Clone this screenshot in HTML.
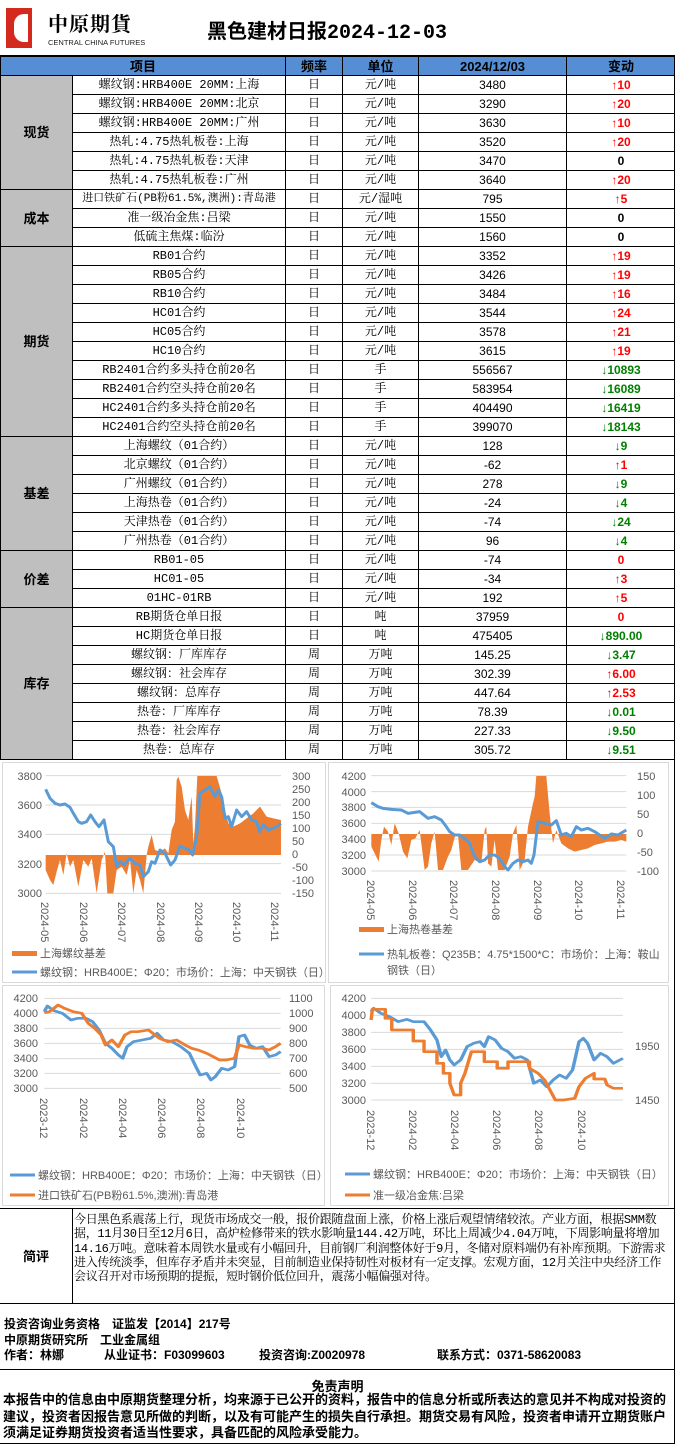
<!DOCTYPE html>
<html><head><meta charset="utf-8">
<style>
*{margin:0;padding:0;box-sizing:border-box}
body{width:675px;height:1445px;background:#fff;position:relative;overflow:hidden;font-family:"Liberation Sans","Noto Sans CJK SC",sans-serif}
.abs{position:absolute}
table{position:absolute;left:0;top:56px;width:675px;border-collapse:collapse;table-layout:fixed;font-family:"Liberation Mono","Noto Serif CJK SC",serif;font-size:12px}
td{border:1px solid #000;height:19px;text-align:center;padding:0;white-space:nowrap;overflow:hidden;line-height:17px}
tr.h td{background:#558ED5;font-weight:bold;font-family:"Liberation Sans","Noto Sans CJK SC",sans-serif;font-size:13px}
td.c{background:#BFBFBF;font-weight:bold;font-family:"Liberation Sans","Noto Sans CJK SC",sans-serif;font-size:13px}
td.n{font-family:"Liberation Sans Narrow","Liberation Sans",sans-serif;font-size:12px}
.u{color:#f00;font-weight:bold;font-family:"Liberation Sans","Noto Sans CJK SC",sans-serif}
.d{color:#008000;font-weight:bold;font-family:"Liberation Sans","Noto Sans CJK SC",sans-serif}
.z{color:#000;font-weight:bold;font-family:"Liberation Sans",sans-serif}
svg text{font-family:"Liberation Sans","Noto Sans CJK SC",sans-serif;fill:#595959;font-size:11px}
.ft{font-family:"Liberation Sans","Noto Sans CJK SC",sans-serif;font-weight:bold;font-size:12px;position:absolute;left:4px;white-space:nowrap}
</style></head><body>
<div class="abs" style="left:6px;top:8px;width:26px;height:40px;background:#d42a1e"></div>
<div class="abs" style="left:14px;top:14px;width:14px;height:28px;background:#fff;border-radius:10px 0 0 10px"></div>
<div class="abs" style="left:48px;top:8px;font-size:20px;font-weight:bold;font-family:'Noto Serif CJK SC',serif;letter-spacing:1px">中原期貨</div>
<div class="abs" style="left:48px;top:38px;font-size:7.5px;color:#222">CENTRAL CHINA FUTURES</div>
<div class="abs" style="left:207px;top:15px;font-size:20px;font-weight:bold;font-family:'Liberation Mono','Noto Sans CJK SC',sans-serif">黑色建材日报2024-12-03</div>
<div class="abs" style="left:0;top:55px;width:675px;height:1px;background:#000"></div>

<table>
<colgroup><col style="width:72px"><col style="width:213px"><col style="width:57px"><col style="width:76px"><col style="width:148px"><col style="width:109px"></colgroup>
<tr class="h"><td colspan="2">项目</td><td>频率</td><td>单位</td><td>2024/12/03</td><td>变动</td></tr>
<tr><td class="c" rowspan="6">现货</td><td>螺纹钢:HRB400E 20MM:上海</td><td>日</td><td>元/吨</td><td class="n">3480</td><td class="u">↑10</td></tr>
<tr><td>螺纹钢:HRB400E 20MM:北京</td><td>日</td><td>元/吨</td><td class="n">3290</td><td class="u">↑20</td></tr>
<tr><td>螺纹钢:HRB400E 20MM:广州</td><td>日</td><td>元/吨</td><td class="n">3630</td><td class="u">↑10</td></tr>
<tr><td>热轧:4.75热轧板卷:上海</td><td>日</td><td>元/吨</td><td class="n">3520</td><td class="u">↑20</td></tr>
<tr><td>热轧:4.75热轧板卷:天津</td><td>日</td><td>元/吨</td><td class="n">3470</td><td class="z">0</td></tr>
<tr><td>热轧:4.75热轧板卷:广州</td><td>日</td><td>元/吨</td><td class="n">3640</td><td class="u">↑20</td></tr>
<tr><td class="c" rowspan="3">成本</td><td style="font-size:11px">进口铁矿石(PB粉61.5%,澳洲):青岛港</td><td>日</td><td>元/湿吨</td><td class="n">795</td><td class="u">↑5</td></tr>
<tr><td>准一级冶金焦:吕梁</td><td>日</td><td>元/吨</td><td class="n">1550</td><td class="z">0</td></tr>
<tr><td>低硫主焦煤:临汾</td><td>日</td><td>元/吨</td><td class="n">1560</td><td class="z">0</td></tr>
<tr><td class="c" rowspan="10">期货</td><td>RB01合约</td><td>日</td><td>元/吨</td><td class="n">3352</td><td class="u">↑19</td></tr>
<tr><td>RB05合约</td><td>日</td><td>元/吨</td><td class="n">3426</td><td class="u">↑19</td></tr>
<tr><td>RB10合约</td><td>日</td><td>元/吨</td><td class="n">3484</td><td class="u">↑16</td></tr>
<tr><td>HC01合约</td><td>日</td><td>元/吨</td><td class="n">3544</td><td class="u">↑24</td></tr>
<tr><td>HC05合约</td><td>日</td><td>元/吨</td><td class="n">3578</td><td class="u">↑21</td></tr>
<tr><td>HC10合约</td><td>日</td><td>元/吨</td><td class="n">3615</td><td class="u">↑19</td></tr>
<tr><td>RB2401合约多头持仓前20名</td><td>日</td><td>手</td><td class="n">556567</td><td class="d">↓10893</td></tr>
<tr><td>RB2401合约空头持仓前20名</td><td>日</td><td>手</td><td class="n">583954</td><td class="d">↓16089</td></tr>
<tr><td>HC2401合约多头持仓前20名</td><td>日</td><td>手</td><td class="n">404490</td><td class="d">↓16419</td></tr>
<tr><td>HC2401合约空头持仓前20名</td><td>日</td><td>手</td><td class="n">399070</td><td class="d">↓18143</td></tr>
<tr><td class="c" rowspan="6">基差</td><td>上海螺纹（01合约）</td><td>日</td><td>元/吨</td><td class="n">128</td><td class="d">↓9</td></tr>
<tr><td>北京螺纹（01合约）</td><td>日</td><td>元/吨</td><td class="n">-62</td><td class="u">↑1</td></tr>
<tr><td>广州螺纹（01合约）</td><td>日</td><td>元/吨</td><td class="n">278</td><td class="d">↓9</td></tr>
<tr><td>上海热卷（01合约）</td><td>日</td><td>元/吨</td><td class="n">-24</td><td class="d">↓4</td></tr>
<tr><td>天津热卷（01合约）</td><td>日</td><td>元/吨</td><td class="n">-74</td><td class="d">↓24</td></tr>
<tr><td>广州热卷（01合约）</td><td>日</td><td>元/吨</td><td class="n">96</td><td class="d">↓4</td></tr>
<tr><td class="c" rowspan="3">价差</td><td>RB01-05</td><td>日</td><td>元/吨</td><td class="n">-74</td><td class="u">0</td></tr>
<tr><td>HC01-05</td><td>日</td><td>元/吨</td><td class="n">-34</td><td class="u">↑3</td></tr>
<tr><td>01HC-01RB</td><td>日</td><td>元/吨</td><td class="n">192</td><td class="u">↑5</td></tr>
<tr><td class="c" rowspan="8">库存</td><td>RB期货仓单日报</td><td>日</td><td>吨</td><td class="n">37959</td><td class="u">0</td></tr>
<tr><td>HC期货仓单日报</td><td>日</td><td>吨</td><td class="n">475405</td><td class="d">↓890.00</td></tr>
<tr><td>螺纹钢：厂库库存</td><td>周</td><td>万吨</td><td class="n">145.25</td><td class="d">↓3.47</td></tr>
<tr><td>螺纹钢：社会库存</td><td>周</td><td>万吨</td><td class="n">302.39</td><td class="u">↑6.00</td></tr>
<tr><td>螺纹钢：总库存</td><td>周</td><td>万吨</td><td class="n">447.64</td><td class="u">↑2.53</td></tr>
<tr><td>热卷：厂库库存</td><td>周</td><td>万吨</td><td class="n">78.39</td><td class="d">↓0.01</td></tr>
<tr><td>热卷：社会库存</td><td>周</td><td>万吨</td><td class="n">227.33</td><td class="d">↓9.50</td></tr>
<tr><td>热卷：总库存</td><td>周</td><td>万吨</td><td class="n">305.72</td><td class="d">↓9.51</td></tr>
</table>

<svg class="abs" style="left:0;top:0" width="675" height="1445">
<g fill="none" stroke="#d9d9d9" stroke-width="1">
<rect x="2.5" y="762.5" width="323" height="220"/>
<rect x="328.5" y="762.5" width="340" height="220"/>
<rect x="2.5" y="985.5" width="322" height="220"/>
<rect x="330.5" y="985.5" width="338" height="220"/>
</g>
<g transform="translate(0,760) scale(0.3333,0.3333)">
<g stroke="#d9d9d9" stroke-width="3"><line x1="137" y1="47" x2="843" y2="47"/><line x1="137" y1="135" x2="843" y2="135"/><line x1="137" y1="223" x2="843" y2="223"/><line x1="137" y1="311" x2="843" y2="311"/><line x1="137" y1="400" x2="843" y2="400"/></g>
<polygon fill="#ED7D31" points="137,285 137,330 150,360 160,375 170,335 180,300 190,345 200,280 210,320 220,300 235,380 250,300 265,320 275,295 290,400 305,300 315,275 322,400 340,400 350,330 365,320 380,345 390,300 400,400 410,330 420,360 430,400 440,285 445,260 455,225 465,270 480,275 495,265 505,280 515,210 525,185 530,60 535,50 545,80 555,150 565,180 575,110 580,250 585,200 592,48 650,48 665,100 675,150 685,190 700,200 720,190 740,175 760,160 780,140 800,170 820,175 843,180 843,285"/>
<polyline fill="none" stroke="#5B9BD5" stroke-width="9" stroke-linejoin="round" points="137,88 150,115 165,130 180,135 195,132 210,142 220,160 235,185 245,190 260,185 272,165 285,185 297,200 312,180 325,245 340,260 350,320 360,305 372,315 390,295 405,310 420,315 430,350 445,335 455,305 465,310 480,270 495,280 512,315 525,300 540,258 555,265 565,268 578,285 590,230 600,100 615,90 630,80 645,110 655,90 665,110 675,175 685,170 695,200 710,150 725,170 740,155 755,180 770,185 778,215 790,195 805,210 820,205 830,200 843,190"/>
</g>
<g text-anchor="end"><text x="42" y="780">3800</text><text x="42" y="809">3600</text><text x="42" y="838">3400</text><text x="42" y="868">3200</text><text x="42" y="897">3000</text></g>
<g><text x="292" y="780">300</text><text x="292" y="793">250</text><text x="292" y="806">200</text><text x="292" y="819">150</text><text x="292" y="832">100</text><text x="292" y="845">50</text><text x="292" y="858">0</text><text x="292" y="871">-50</text><text x="292" y="884">-100</text><text x="292" y="897">-150</text></g>
<g><text transform="translate(41,902) rotate(90)">2024-05</text><text transform="translate(80,902) rotate(90)">2024-06</text><text transform="translate(118,902) rotate(90)">2024-07</text><text transform="translate(157,902) rotate(90)">2024-08</text><text transform="translate(195,902) rotate(90)">2024-09</text><text transform="translate(233,902) rotate(90)">2024-10</text><text transform="translate(271,902) rotate(90)">2024-11</text></g>
<rect x="12" y="951" width="25" height="5" fill="#ED7D31"/><text x="40" y="957">上海螺纹基差</text>
<line x1="12" y1="972" x2="37" y2="972" stroke="#5B9BD5" stroke-width="3"/><text x="40" y="976">螺纹钢：HRB400E：Φ20：市场价：上海：中天钢铁（日）</text>
<g transform="translate(328,760) scale(0.3333,0.3333)">
<g stroke="#d9d9d9" stroke-width="3"><line x1="130" y1="47" x2="895" y2="47"/><line x1="130" y1="95" x2="895" y2="95"/><line x1="130" y1="142" x2="895" y2="142"/><line x1="130" y1="190" x2="895" y2="190"/><line x1="130" y1="237" x2="895" y2="237"/><line x1="130" y1="285" x2="895" y2="285"/><line x1="130" y1="333" x2="895" y2="333"/></g>
<polygon fill="#ED7D31" points="130,222 130,260 140,280 152,305 160,240 168,200 180,215 190,255 200,190 212,220 225,275 238,295 250,240 262,235 275,210 290,330 300,320 310,250 320,215 330,330 345,330 360,290 370,270 382,225 390,225 400,330 420,330 440,300 460,310 470,210 475,200 480,310 490,320 500,240 510,330 530,330 545,290 555,220 565,195 575,330 590,300 600,200 615,130 620,110 625,48 655,48 665,160 675,250 685,210 700,250 720,265 740,275 760,270 780,265 800,255 820,250 840,245 860,245 880,240 895,245 895,222"/>
<polyline fill="none" stroke="#5B9BD5" stroke-width="9" stroke-linejoin="round" points="130,128 150,140 165,145 190,148 220,150 240,160 275,155 300,175 320,170 340,180 355,200 365,215 380,225 395,225 410,235 425,250 440,290 455,305 470,300 485,285 500,285 515,295 530,320 540,330 555,310 570,300 585,305 600,300 610,310 618,285 630,185 650,190 670,195 685,182 700,225 715,220 730,230 745,200 760,210 780,205 800,215 815,225 830,235 850,222 870,225 895,210"/>
</g>
<g text-anchor="end"><text x="366" y="780">4200</text><text x="366" y="796">4000</text><text x="366" y="811">3800</text><text x="366" y="827">3600</text><text x="366" y="843">3400</text><text x="366" y="859">3200</text><text x="366" y="875">3000</text></g>
<g><text x="637" y="780">150</text><text x="637" y="799">100</text><text x="637" y="818">50</text><text x="637" y="837">0</text><text x="637" y="856">-50</text><text x="637" y="875">-100</text></g>
<g><text transform="translate(367,880) rotate(90)">2024-05</text><text transform="translate(409,880) rotate(90)">2024-06</text><text transform="translate(450,880) rotate(90)">2024-07</text><text transform="translate(492,880) rotate(90)">2024-08</text><text transform="translate(534,880) rotate(90)">2024-09</text><text transform="translate(575,880) rotate(90)">2024-10</text><text transform="translate(617,880) rotate(90)">2024-11</text></g>
<rect x="359" y="927" width="25" height="5" fill="#ED7D31"/><text x="387" y="933">上海热卷基差</text>
<line x1="359" y1="954" x2="384" y2="954" stroke="#5B9BD5" stroke-width="3"/><text x="387" y="958">热轧板卷：Q235B：4.75*1500*C：市场价：上海：鞍山</text><text x="387" y="974">钢铁（日）</text>
<g transform="translate(0,980) scale(0.4305,0.3333)">
<g stroke="#d9d9d9" stroke-width="3"><line x1="103" y1="55" x2="652" y2="55"/><line x1="103" y1="100" x2="652" y2="100"/><line x1="103" y1="145" x2="652" y2="145"/><line x1="103" y1="190" x2="652" y2="190"/><line x1="103" y1="236" x2="652" y2="236"/><line x1="103" y1="280" x2="652" y2="280"/><line x1="103" y1="325" x2="652" y2="325"/></g>
<polyline fill="none" stroke="#5B9BD5" stroke-width="8" stroke-linejoin="round" points="103,95 110,78 125,92 145,100 165,120 180,115 200,115 215,125 230,150 245,190 260,205 275,225 285,235 295,200 310,185 330,180 350,175 365,160 380,180 400,185 420,200 440,220 455,260 465,285 480,280 490,300 500,290 515,265 530,270 545,260 555,170 568,165 580,195 595,205 610,200 625,230 640,225 652,215"/>
<polyline fill="none" stroke="#ED7D31" stroke-width="8" stroke-linejoin="round" points="103,98 115,95 135,75 150,85 170,95 190,100 205,130 220,145 235,165 245,195 260,180 275,200 290,165 305,155 320,155 345,150 355,160 370,175 390,185 410,180 430,195 445,205 460,210 480,220 495,230 510,240 525,240 545,235 555,195 570,200 590,205 610,205 625,210 640,200 652,190"/>
</g>
<g text-anchor="end"><text x="38" y="1002">4200</text><text x="38" y="1017">4000</text><text x="38" y="1032">3800</text><text x="38" y="1047">3600</text><text x="38" y="1062">3400</text><text x="38" y="1077">3200</text><text x="38" y="1092">3000</text></g>
<g><text x="289" y="1002">1100</text><text x="289" y="1017">1000</text><text x="289" y="1032">900</text><text x="289" y="1047">800</text><text x="289" y="1062">700</text><text x="289" y="1077">600</text><text x="289" y="1092">500</text></g>
<g><text transform="translate(40,1098) rotate(90)">2023-12</text><text transform="translate(80,1098) rotate(90)">2024-02</text><text transform="translate(119,1098) rotate(90)">2024-04</text><text transform="translate(158,1098) rotate(90)">2024-06</text><text transform="translate(197,1098) rotate(90)">2024-08</text><text transform="translate(237,1098) rotate(90)">2024-10</text></g>
<line x1="10" y1="1175" x2="35" y2="1175" stroke="#5B9BD5" stroke-width="3"/><text x="38" y="1179">螺纹钢：HRB400E：Φ20：市场价：上海：中天钢铁（日）</text>
<line x1="10" y1="1195" x2="35" y2="1195" stroke="#ED7D31" stroke-width="3"/><text x="38" y="1199">进口铁矿石(PB粉61.5%,澳洲):青岛港</text>
<g transform="translate(0,980) scale(0.4305,0.3333)">
<g stroke="#d9d9d9" stroke-width="3"><line x1="862" y1="55" x2="1447" y2="55"/><line x1="862" y1="106" x2="1447" y2="106"/><line x1="862" y1="157" x2="1447" y2="157"/><line x1="862" y1="208" x2="1447" y2="208"/><line x1="862" y1="259" x2="1447" y2="259"/><line x1="862" y1="310" x2="1447" y2="310"/><line x1="862" y1="360" x2="1447" y2="360"/></g>
<polyline fill="none" stroke="#5B9BD5" stroke-width="8" stroke-linejoin="round" points="862,95 868,85 885,100 905,110 925,125 945,118 960,125 985,125 1000,150 1015,180 1025,230 1035,210 1045,240 1055,255 1070,240 1085,200 1100,190 1115,185 1125,200 1135,170 1150,180 1165,205 1180,215 1195,235 1210,230 1225,240 1240,310 1255,300 1270,320 1285,300 1300,285 1315,295 1330,270 1345,185 1355,175 1365,190 1380,240 1395,220 1410,230 1425,250 1447,235"/>
<polyline fill="none" stroke="#ED7D31" stroke-width="8" stroke-linejoin="round" points="862,120 865,88 895,88 895,115 910,115 910,150 960,150 960,183 985,183 985,215 1015,215 1015,250 1030,250 1030,280 1045,280 1045,310 1055,345 1070,345 1070,310 1080,280 1095,215 1125,215 1125,245 1155,245 1155,265 1180,265 1180,245 1230,245 1230,265 1250,280 1265,300 1290,360 1310,360 1335,355 1345,320 1360,295 1380,280 1380,297 1405,297 1410,315 1425,325 1447,325"/>
</g>
<g text-anchor="end"><text x="366" y="1002">4200</text><text x="366" y="1019">4000</text><text x="366" y="1036">3800</text><text x="366" y="1053">3600</text><text x="366" y="1070">3400</text><text x="366" y="1087">3200</text><text x="366" y="1104">3000</text></g>
<g><text x="635" y="1050">1950</text><text x="635" y="1104">1450</text></g>
<g><text transform="translate(367,1110) rotate(90)">2023-12</text><text transform="translate(409,1110) rotate(90)">2024-02</text><text transform="translate(451,1110) rotate(90)">2024-04</text><text transform="translate(493,1110) rotate(90)">2024-06</text><text transform="translate(535,1110) rotate(90)">2024-08</text><text transform="translate(578,1110) rotate(90)">2024-10</text></g>
<line x1="345" y1="1174" x2="370" y2="1174" stroke="#5B9BD5" stroke-width="3"/><text x="373" y="1178">螺纹钢：HRB400E：Φ20：市场价：上海：中天钢铁（日）</text>
<line x1="345" y1="1195" x2="370" y2="1195" stroke="#ED7D31" stroke-width="3"/><text x="373" y="1199">准一级冶金焦:吕梁</text>
<g stroke="#000" stroke-width="1">
<line x1="0" y1="1208.5" x2="675" y2="1208.5"/>
<line x1="72.5" y1="1208" x2="72.5" y2="1303"/>
<line x1="0" y1="1303.5" x2="675" y2="1303.5"/>
<line x1="0" y1="1369.5" x2="675" y2="1369.5"/>
<line x1="0" y1="1443.5" x2="675" y2="1443.5"/>
<line x1="674.5" y1="56" x2="674.5" y2="1444"/>
</g>
</svg>
<div class="abs" style="left:0;top:1246px;width:72px;text-align:center;font-weight:bold;font-size:13px;font-family:'Liberation Sans','Noto Sans CJK SC',sans-serif">简评</div>
<div class="abs" style="left:74px;top:1213px;width:598px;font-size:12px;line-height:14.3px;font-family:'Liberation Mono','Noto Serif CJK SC',serif;letter-spacing:-0.3px">今日黑色系震荡上行，现货市场成交一般，报价跟随盘面上涨，价格上涨后观望情绪较浓。产业方面，根据SMM数据，11月30日至12月6日，高炉检修带来的铁水影响量144.42万吨，环比上周减少4.04万吨，下周影响量将增加14.16万吨。意味着本周铁水量或有小幅回升，目前钢厂利润整体好于9月，冬储对原料端仍有补库预期。下游需求进入传统淡季，但库存矛盾并未突显，目前制造业保持韧性对板材有一定支撑。宏观方面，12月关注中央经济工作会议召开对市场预期的提振，短时钢价低位回升，震荡小幅偏强对待。</div>
<div class="ft" style="top:1315px">投资咨询业务资格　证监发【2014】217号</div>
<div class="ft" style="top:1331px">中原期货研究所　工业金属组</div>
<div class="ft" style="top:1346px">作者：林娜</div>
<div class="ft" style="top:1346px;left:104px">从业证书：F03099603</div>
<div class="ft" style="top:1346px;left:259px">投资咨询:Z0020978</div>
<div class="ft" style="top:1346px;left:437px">联系方式：0371-58620083</div>
<div class="ft" style="top:1376px;left:0;width:675px;text-align:center;font-size:13px">免责声明</div>
<div class="ft" style="top:1392px;left:3px;width:670px;white-space:normal;line-height:16.5px;font-size:13px">本报告中的信息由中原期货整理分析，均来源于已公开的资料，报告中的信息分析或所表达的意见并不构成对投资的建议，投资者因报告意见所做的判断，以及有可能产生的损失自行承担。期货交易有风险，投资者申请开立期货账户须满足证券期货投资者适当性要求，具备匹配的风险承受能力。</div>
</body></html>
